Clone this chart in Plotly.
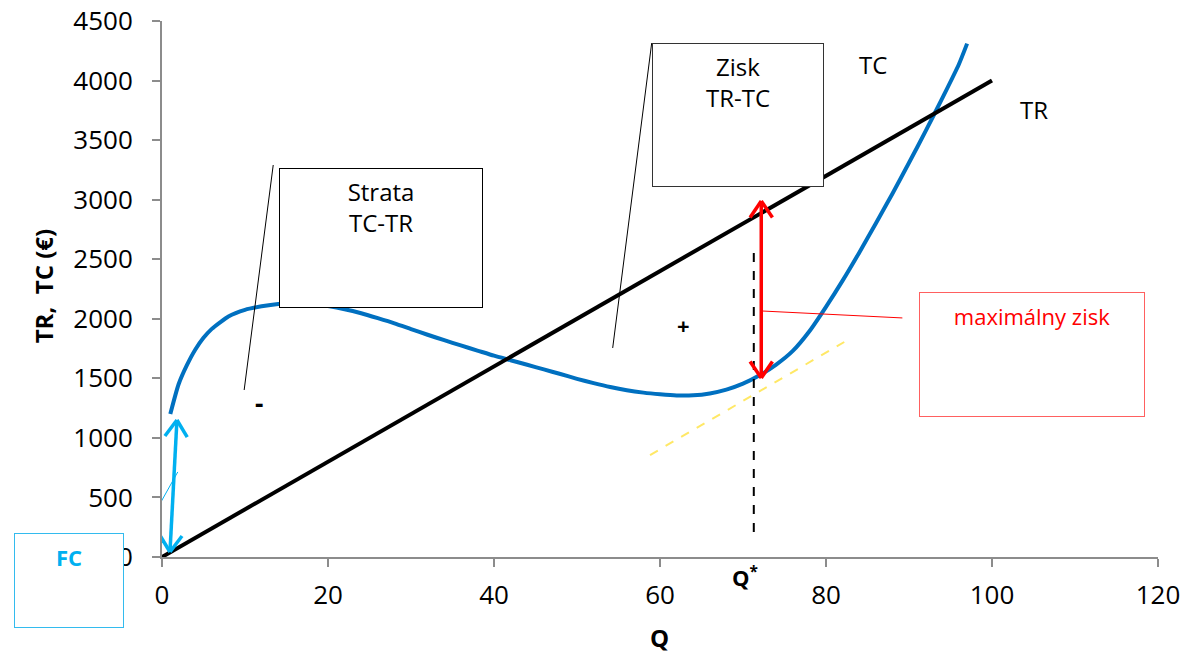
import math
import plotly.graph_objects as go

# ---- data ----
q_tc = [1, 2, 3, 4, 5, 6, 7, 8, 10, 12, 14, 16, 18, 20, 22, 24, 26, 28, 30, 32, 34, 36, 38, 40, 42, 44, 46, 48,
        50, 52, 54, 56, 58, 60, 62, 64, 66, 68, 70, 72, 74, 76, 78, 80, 82, 84, 86, 88, 90, 92, 94, 96, 97]
tc = [1200, 1450, 1610, 1740, 1840, 1915, 1970, 2020, 2075, 2105, 2125, 2132, 2125, 2106, 2080, 2046, 2005, 1962,
      1914, 1866, 1820, 1776, 1733, 1690, 1652, 1614, 1575, 1536, 1496, 1460, 1427, 1400, 1380, 1366, 1356, 1357,
      1373, 1405, 1455, 1525, 1615, 1730, 1895, 2100, 2320, 2555, 2800, 3050, 3310, 3575, 3850, 4135, 4310]
q_tr = [0, 100]
tr = [0, 4000]

q_star = 71.3
q_arrow = 72.2
arrow_low, arrow_high = 1503, 2989
dash_low, dash_high = 210, 2578
tangent_q = [58.8, 82.2]
tangent_v = [856, 1805]
fc_arrow_q = [0.96, 1.8]
fc_arrow_v = [42, 1150]

x_ticks = [0, 20, 40, 60, 80, 100, 120]
y_ticks = [0, 500, 1000, 1500, 2000, 2500, 3000, 3500, 4000, 4500]

FONT = "Open Sans"
X_RANGE = [0, 120]
Y_RANGE = [0, 4500]
MARGIN = dict(l=162, r=22, t=21, b=102)
W, H = 1180, 659
PLOT_W = W - MARGIN["l"] - MARGIN["r"]
PLOT_H = H - MARGIN["t"] - MARGIN["b"]
PX_X = PLOT_W / (X_RANGE[1] - X_RANGE[0])
PX_Y = PLOT_H / (Y_RANGE[1] - Y_RANGE[0])

fig = go.Figure()
fig.add_trace(go.Scatter(x=q_tc, y=tc, mode="lines", line=dict(color="#0070C0", width=4, shape="spline", smoothing=0.6),
                         showlegend=False, hoverinfo="skip"))
fig.add_trace(go.Scatter(x=q_tr, y=tr, mode="lines", line=dict(color="black", width=4),
                         showlegend=False, hoverinfo="skip"))
# tangent
fig.add_trace(go.Scatter(x=tangent_q, y=tangent_v, mode="lines", line=dict(color="#FFE866", width=2, dash="dash"),
                         showlegend=False, hoverinfo="skip"))
# Q* dashed vertical
fig.add_trace(go.Scatter(x=[q_star, q_star], y=[dash_low, dash_high], mode="lines",
                         line=dict(color="black", width=2, dash="dash"), showlegend=False, hoverinfo="skip"))

annotations = []
shapes = []

# double arrows with open V heads
def double_arrow(x0, y0, x1, y1, color, width, arm=20, half_angle=34):
    shapes.append(dict(type="line", xref="x", yref="y", x0=x0, y0=y0, x1=x1, y1=y1,
                       line=dict(color=color, width=width)))
    for (tx, ty, fx, fy) in ((x1, y1, x0, y0), (x0, y0, x1, y1)):
        dx = (fx - tx) * PX_X
        dy = (fy - ty) * PX_Y
        ln = math.hypot(dx, dy)
        ux, uy = dx / ln, dy / ln
        for s in (1, -1):
            a = math.radians(half_angle) * s
            rx = ux * math.cos(a) - uy * math.sin(a)
            ry = ux * math.sin(a) + uy * math.cos(a)
            shapes.append(dict(type="line", xref="x", yref="y", x0=tx, y0=ty,
                               x1=tx + rx * arm / PX_X, y1=ty + ry * arm / PX_Y,
                               line=dict(color=color, width=width)))

double_arrow(q_arrow, arrow_low, q_arrow, arrow_high, "#FF0000", 3.5)
double_arrow(fc_arrow_q[0], fc_arrow_v[0], fc_arrow_q[1], fc_arrow_v[1], "#00B0F0", 3.5)

# leader lines
shapes += [
    dict(type="line", xref="x", yref="y", x0=13.4, y0=3291, x1=9.9, y1=1402, line=dict(color="black", width=1)),
    dict(type="line", xref="x", yref="y", x0=59.0, y0=4315, x1=54.3, y1=1755, line=dict(color="black", width=1)),
    dict(type="line", xref="x", yref="y", x0=72.4, y0=2065, x1=89.2, y1=2007, line=dict(color="#FF0000", width=1)),
    dict(type="line", xref="x", yref="y", x0=-3.5, y0=42, x1=1.9, y1=714, line=dict(color="#00B0F0", width=1)),
]

def box(text, x, y, w, h, color, bcolor, xref="x", yref="y", bold=False, size=24, pad=6):
    bw = 1
    t = f"<b>{text}</b>" if bold else text
    annotations.append(dict(x=x, y=y, xref=xref, yref=yref, text=t, showarrow=False,
                            xanchor="center", yanchor="middle", width=w - 2 * (pad + bw), height=h - 2 * (pad + bw),
                            align="center", valign="top", bgcolor="white", bordercolor=bcolor,
                            borderwidth=bw, borderpad=pad, font=dict(family=FONT, size=size, color=color)))

box("Strata<br>TC-TR", 26.4, 2678, 204, 140, "black", "black")
box("Zisk<br>TR-TC", 69.4, 3711, 172, 144, "black", "#333333")
box("maximálny zisk", 104.8, 1700, 226, 125, "#FF0000", "#FF6060", size=22, pad=8)
box("FC", -0.0934, -0.0438, 110, 95, "#00B0F0", "#33BBEE", xref="paper", yref="paper", bold=True, size=22, pad=8)

def label(text, x, y, size=24, bold=False, xref="x", yref="y", color="black"):
    t = f"<b>{text}</b>" if bold else text
    annotations.append(dict(x=x, y=y, xref=xref, yref=yref, text=t, showarrow=False,
                            xanchor="center", yanchor="middle", font=dict(family=FONT, size=size, color=color)))

label("TC", 85.7, 4131)
label("TR", 105.1, 3753)
label("-", 11.7, 1290, size=26, bold=True)
label("+", 62.8, 1948, size=22, bold=True)
label("Q<sup>*</sup>", 70.2, -0.037, size=22, bold=True, yref="paper")
label("Q", 0.499, -0.150, size=24, bold=True, xref="paper", yref="paper")
annotations.append(dict(x=-0.1195, y=0.505, xref="paper", yref="paper", text="<b>TR,  TC (€)</b>", textangle=-90,
                        showarrow=False, xanchor="center", yanchor="middle", font=dict(family=FONT, size=24, color="black")))

fig.update_layout(
    width=W, height=H,
    margin=dict(**MARGIN, autoexpand=False),
    paper_bgcolor="white", plot_bgcolor="white",
    xaxis=dict(range=X_RANGE, tickvals=x_ticks, showgrid=False, zeroline=False, showline=True, automargin=False,
               linecolor="#8C8C8C", linewidth=2, ticks="outside", ticklen=8, tickwidth=2, tickcolor="#8C8C8C",
               tickfont=dict(family=FONT, size=26, color="black"), ticklabelstandoff=6, ticklabeloverflow="allow"),
    yaxis=dict(range=Y_RANGE, tickvals=y_ticks, showgrid=False, zeroline=False, showline=True, automargin=False,
               linecolor="#8C8C8C", linewidth=2, ticks="outside", ticklen=8, tickwidth=2, tickcolor="#8C8C8C",
               tickfont=dict(family=FONT, size=26, color="black"), ticklabelstandoff=14, ticklabeloverflow="allow"),
    annotations=annotations, shapes=shapes,
)
fig.write_html("out.html")
